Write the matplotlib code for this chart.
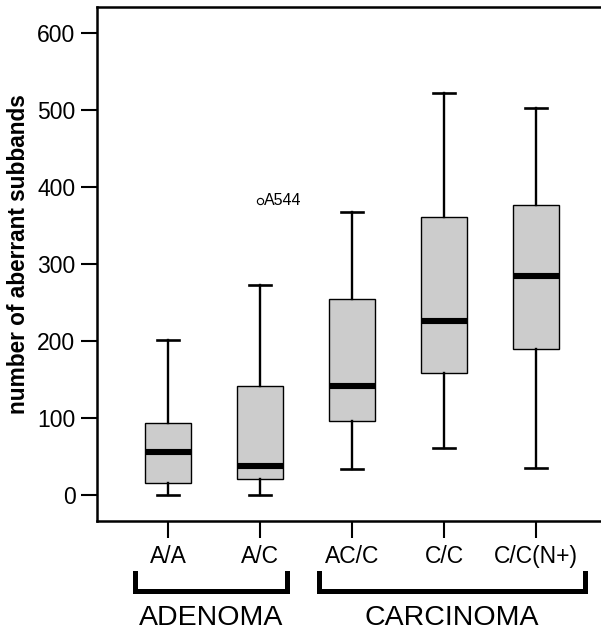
import matplotlib
matplotlib.use('Agg')
import matplotlib.pyplot as plt
import matplotlib.transforms as mtransforms

plt.rcParams['font.family'] = ['Liberation Sans', 'DejaVu Sans']

# data
categories = ['A/A', 'A/C', 'AC/C', 'C/C', 'C/C(N+)']
whisker_low = [0, 0, 34, 61, 35]
q1 = [16, 21, 96, 158, 190]
medians = [56, 38, 142, 226, 284]
q3 = [94, 142, 255, 361, 377]
whisker_high = [201, 273, 367, 522, 503]
outliers = [[], [382], [], [], []]
outlier_labels = [[], ['A544'], [], [], []]

groups = ['ADENOMA', 'CARCINOMA']
group_members = [(0, 1), (2, 4)]

fig = plt.figure(figsize=(6.01, 6.33), dpi=100)
ax = fig.add_axes([0.1614, 0.1769, 0.8386, 0.8121])

stats = []
for i, name in enumerate(categories):
    stats.append({'label': name, 'whislo': whisker_low[i], 'q1': q1[i], 'med': medians[i],
                  'q3': q3[i], 'whishi': whisker_high[i], 'fliers': outliers[i]})

positions = list(range(1, len(categories) + 1))
ax.bxp(stats, positions=positions, widths=0.5, capwidths=0.24, patch_artist=True,
       boxprops=dict(facecolor='#cccccc', edgecolor='black', linewidth=1.0),
       medianprops=dict(color='black', linewidth=4.4, solid_capstyle='butt'),
       whiskerprops=dict(color='black', linewidth=1.7),
       capprops=dict(color='black', linewidth=1.9),
       flierprops=dict(marker='o', markersize=4.5, markerfacecolor='white',
                       markeredgecolor='black', markeredgewidth=0.8))

# outlier case labels
for i, labs in enumerate(outlier_labels):
    for val, lab in zip(outliers[i], labs):
        ax.annotate(lab, (positions[i], val), xytext=(3, 0), textcoords='offset points',
                    ha='left', va='center', fontsize=11.5)

ax.set_xlim(0.228, 5.707)
ax.set_ylim(-34, 634)
ax.set_yticks([0, 100, 200, 300, 400, 500, 600])
ax.set_ylabel('number of aberrant subbands', fontsize=16.3, fontweight='bold')
ax.yaxis.set_label_coords(-0.133, 0.519)

ax.spines['right'].set_visible(False)
for s in ['left', 'bottom', 'top']:
    ax.spines[s].set_linewidth(1.8)
ax.tick_params(axis='y', length=11.5, width=1.5, labelsize=16.5, pad=4)
ax.tick_params(axis='x', length=12.5, width=1.5, labelsize=16.5, pad=5)

# group brackets under the category labels
trans = mtransforms.blended_transform_factory(ax.transData, ax.transAxes)
pad_left, pad_right = 0.36, 0.29
for name, (a, b) in zip(groups, group_members):
    x0 = positions[a] - pad_left
    x1 = positions[b] + (pad_right if b == 1 else 0.53)
    ax.plot([x0, x0, x1, x1], [-0.101, -0.137, -0.137, -0.101], transform=trans,
            color='black', linewidth=3.6, clip_on=False, solid_joinstyle='miter')
    ax.text((x0 + x1) / 2, -0.214, name, transform=trans, ha='center', va='bottom',
            fontsize=20.5)

fig.savefig('out.png', dpi=100)
